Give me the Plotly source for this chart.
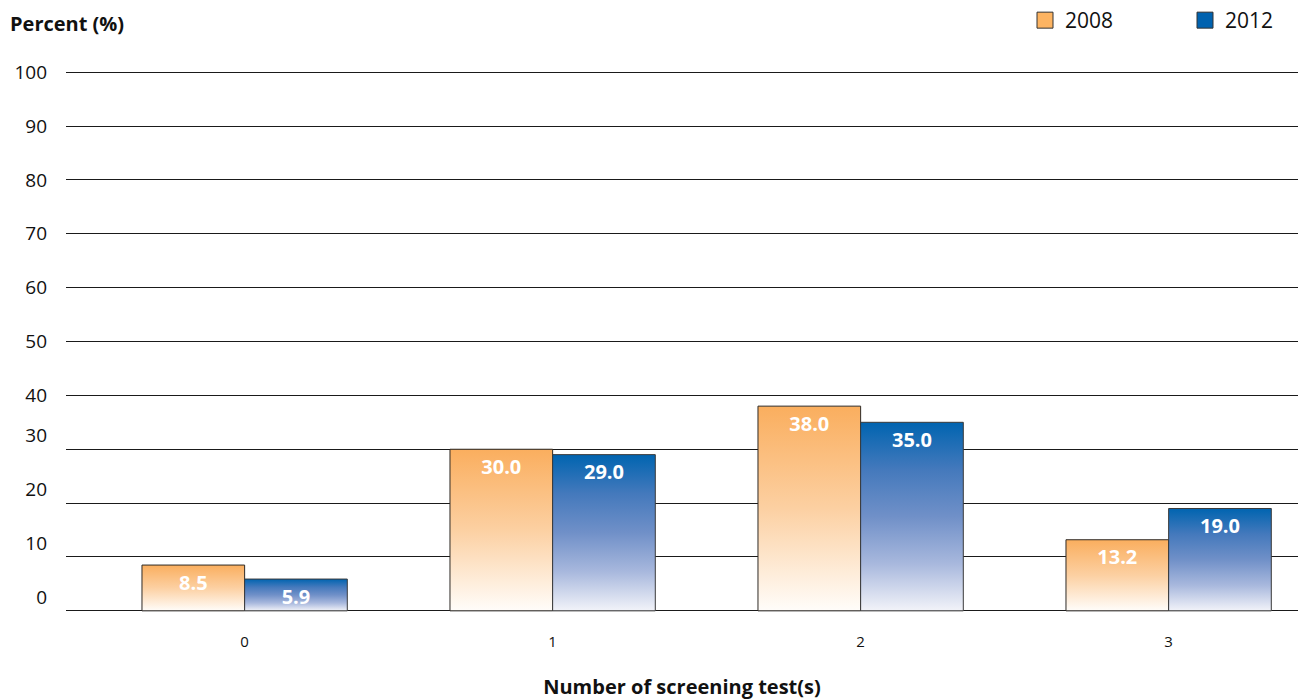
import plotly.graph_objects as go

# ---- data ----
categories = [0, 1, 2, 3]
category_labels = ["0", "1", "2", "3"]
series_names = ["2008", "2012"]
values_2008 = [8.5, 30.0, 38.0, 13.2]
values_2012 = [5.9, 29.0, 35.0, 19.0]
grid_values = [0, 10, 20, 30, 40, 50, 60, 70, 80, 90, 100]
y_labels_upper = [40, 50, 60, 70, 80, 90, 100]
y_labels_lower = [0, 10, 20, 30]

# ---- styles ----
FONT = "Open Sans"
gradients = {
    "2008": [[0, "#FFFDFA"], [0.5, "#FCD0A2"], [1, "#FAAE5E"]],
    "2012": [[0, "#F2F3F9"], [0.25, "#A8B8DD"], [0.5, "#7090C8"],
             [0.75, "#4479BC"], [1, "#0064B0"]],
}
legend_colors = {"2008": "#FDB462", "2012": "#0062AF"}
outline_colors = {"2008": "#2e2a26", "2012": "#3a3a3a"}
BAR_W = 1 / 3
offsets = {"2008": -BAR_W / 2, "2012": BAR_W / 2}
Y_RANGE = [-0.4, 100.4]

fig = go.Figure()
series_values = {"2008": values_2008, "2012": values_2012}

for name in series_names:
    vals = series_values[name]
    for c, v in zip(categories, vals):
        xc = c + offsets[name]
        x0, x1 = xc - BAR_W / 2, xc + BAR_W / 2
        fig.add_trace(go.Scatter(
            x=[x0, x0, x1, x1, x0], y=[0, v, v, 0, 0],
            mode="lines", fill="toself",
            fillgradient=dict(type="vertical", colorscale=gradients[name]),
            line=dict(color=outline_colors[name], width=1),
            showlegend=False, hoverinfo="skip"))

for name in series_names:
    vals = series_values[name]
    fig.add_trace(go.Scatter(
        x=[c + offsets[name] for c in categories], y=vals,
        mode="markers+text", text=[f"{v:.1f}" for v in vals],
        marker=dict(size=14, opacity=0),
        textposition="bottom center",
        textfont=dict(color="white", size=20, family=FONT, weight="bold"),
        yaxis="y2", showlegend=False, hoverinfo="skip"))

for name in series_names:
    fig.add_trace(go.Scatter(
        x=[None], y=[None], mode="markers", name=name,
        marker=dict(symbol="square", size=16, color=legend_colors[name],
                    line=dict(color="#333333", width=1))))

fig.update_layout(
    width=1299, height=700,
    margin=dict(l=66, r=1, t=70, b=87, autoexpand=False),
    paper_bgcolor="white", plot_bgcolor="white",
    font=dict(family=FONT, color="#111111"),
    title=dict(text="Percent (%)", font=dict(size=20, weight="bold", family=FONT, color="#111111"),
               xref="container", x=10 / 1299, xanchor="left",
               yref="container", y=1 - 24 / 700, yanchor="middle"),
    xaxis=dict(range=[-0.58, 3.42], tickmode="array", tickvals=categories,
               ticktext=category_labels, showgrid=False, zeroline=False, showline=False,
               ticks="", tickfont=dict(size=15), ticklabelstandoff=18, automargin=False,
               title=dict(text="Number of screening test(s)",
                          font=dict(size=20, weight="bold"), standoff=40)),
    yaxis=dict(range=Y_RANGE, tickmode="array", tickvals=grid_values,
               ticktext=[str(v) if v in y_labels_upper else "" for v in grid_values],
               showgrid=True, gridcolor="#1a1a1a", gridwidth=1, zeroline=False,
               showline=False, ticks="", tickfont=dict(size=19), ticklabelstandoff=18,
               automargin=False),
    yaxis2=dict(range=Y_RANGE, overlaying="y", side="left", tickmode="array",
                tickvals=y_labels_lower, ticktext=[str(v) for v in y_labels_lower],
                showgrid=False, zeroline=False, showline=False, ticks="",
                tickfont=dict(size=19), ticklabelstandoff=18, ticklabelshift=-14,
                automargin=False),
    legend=dict(orientation="h", xref="container", yref="container",
                x=1025 / 1299, xanchor="left", y=1, yanchor="top",
                font=dict(size=21), entrywidth=115, bgcolor="rgba(0,0,0,0)"),
    showlegend=True,
)

fig.write_html("out.html")
